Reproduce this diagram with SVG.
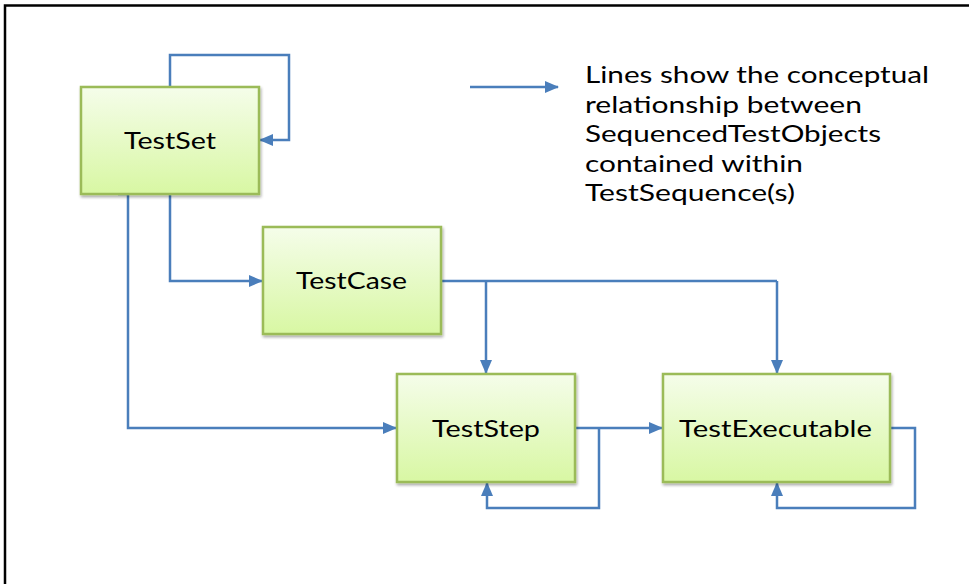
<svg xmlns="http://www.w3.org/2000/svg" width="969" height="584" viewBox="0 0 969 584">
<defs>
<linearGradient id="g" x1="0" y1="0" x2="0" y2="1">
<stop offset="0" stop-color="#f5fdea"/>
<stop offset="1" stop-color="#d8f7a3"/>
</linearGradient>
<filter id="sh" x="-10%" y="-10%" width="130%" height="130%">
<feGaussianBlur in="SourceAlpha" stdDeviation="1.5"/>
<feOffset dx="1" dy="2" result="b"/>
<feComponentTransfer><feFuncA type="linear" slope="0.35"/></feComponentTransfer>
<feMerge><feMergeNode/><feMergeNode in="SourceGraphic"/></feMerge>
</filter>
<marker id="ah" markerUnits="userSpaceOnUse" markerWidth="14" markerHeight="12" viewBox="0 0 14 12" refX="13" refY="6" orient="auto">
<path d="M0,0 L14,6 L0,12 z" fill="#4a7ebb"/>
</marker>
</defs>
<style>
.box{fill:url(#g);stroke:#9bbb59;stroke-width:2.5;filter:url(#sh)}
.lbl{font-family:Lato,"Open Sans","Liberation Sans",sans-serif;font-size:23px;fill:#000;text-anchor:middle}
.leg{font-family:Lato,"Open Sans","Liberation Sans",sans-serif;font-size:24px;fill:#000}
.c{fill:none;stroke:#4a7ebb;stroke-width:2.5}
.ca{fill:none;stroke:#4a7ebb;stroke-width:2.5;marker-end:url(#ah)}
</style>
<rect width="969" height="584" fill="#fff"/>
<path d="M5,584 L5,5.5 L969,5.5" fill="none" stroke="#000" stroke-width="2.5"/>

<g id="connectors">
<path class="ca" d="M170,87 L170,55 L289,55 L289,140 L260,140"/>
<path class="ca" d="M118,194 L128,194 L128,428 L396,428"/>
<path class="ca" d="M170,194 L170,281 L262,281"/>
<path class="c" d="M441,281 L777,281"/>
<path class="ca" d="M486,281 L486,373"/>
<path class="ca" d="M777,281 L777,373"/>
<path class="ca" d="M575,428 L662,428"/>
<path class="ca" d="M599,428 L599,508 L487,508 L487,483"/>
<path class="ca" d="M890,428 L915,428 L915,508 L777,508 L777,483"/>
<path class="ca" d="M470,87 L558,87"/>
</g>

<g id="TestSet">
<rect class="box" x="81" y="87" width="178" height="107"/>
<text class="lbl" x="170" y="149" textLength="92" lengthAdjust="spacingAndGlyphs">TestSet</text>
</g>
<g id="TestCase">
<rect class="box" x="263" y="227" width="178" height="107"/>
<text class="lbl" x="351.5" y="289" textLength="111" lengthAdjust="spacingAndGlyphs">TestCase</text>
</g>
<g id="TestStep">
<rect class="box" x="397" y="374" width="178" height="108"/>
<text class="lbl" x="486" y="437" textLength="108" lengthAdjust="spacingAndGlyphs">TestStep</text>
</g>
<g id="TestExecutable">
<rect class="box" x="663" y="374" width="227" height="108"/>
<text class="lbl" x="775.5" y="437" textLength="193" lengthAdjust="spacingAndGlyphs">TestExecutable</text>
</g>

<g id="legend">
<text class="leg" x="585" y="83" textLength="344" lengthAdjust="spacingAndGlyphs">Lines show the conceptual</text>
<text class="leg" x="585" y="112.5" textLength="277" lengthAdjust="spacingAndGlyphs">relationship between</text>
<text class="leg" x="585" y="142" textLength="296" lengthAdjust="spacingAndGlyphs">SequencedTestObjects</text>
<text class="leg" x="585" y="171.5" textLength="218" lengthAdjust="spacingAndGlyphs">contained within</text>
<text class="leg" x="585" y="201" textLength="210" lengthAdjust="spacingAndGlyphs">TestSequence(s)</text>
</g>
</svg>
